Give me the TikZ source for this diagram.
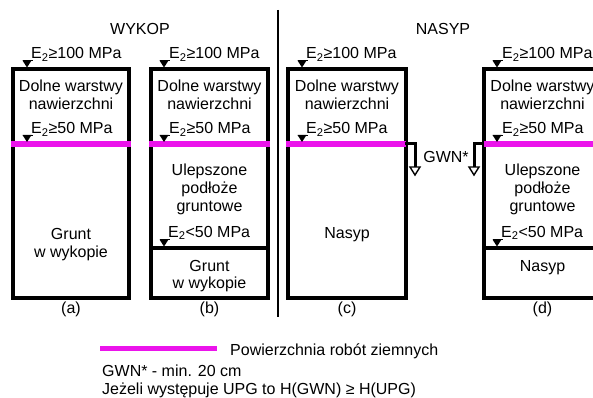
\documentclass[tikz,border=0pt]{standalone}
\usepackage{fontspec}
\setmainfont{Liberation Sans}
\definecolor{mag}{RGB}{235,20,235}
\newcommand\lvlmark[2]{%
  \fill (#1-4.5,#2-7) -- (#1+4.5,#2-7) -- (#1,#2) -- cycle;
  \draw[line width=0.8pt] (#1-4.5,#2-7) -- (#1+6,#2-7);}
\newcommand\gwnarrow[1]{%
  \draw[line width=1.4pt, fill=white] (#1-5,167) -- (#1+5,167) -- (#1,175) -- cycle;}
\begin{document}
\begin{tikzpicture}[x=1pt,y=-1pt,
  box/.style={line width=3.2pt},
  surf/.style={line width=5pt, draw=mag},
  txt/.style={inner sep=0pt, font=\fontsize{16}{19}\selectfont, anchor=base},
  ltxt/.style={txt, anchor=base west},
]
\useasboundingbox (0,0) rectangle (593,398);
\clip (0,0) rectangle (593,398);
\fill[white] (0,0) rectangle (593,398);

% headers and divider
\node[txt] (hw) at (140,35) {WYKOP};
\node[txt] (hn) at (443,35) {NASYP};
\draw[line width=2.5pt] (278,10) -- (278,317);

% box (a)
\draw[box] (13,69) rectangle (129,298);
\draw[surf] (11.4,144) -- (130.6,144);
\node[ltxt] (a1) at (31,59) {E\textsubscript{2}≥100 MPa};
\lvlmark{27}{67.5}
\node[txt] (a2) at (71,92) {Dolne warstwy};
\node[txt] (a3) at (71,110) {nawierzchni};
\node[ltxt] (a4) at (31,134) {E\textsubscript{2}≥50 MPa};
\lvlmark{27}{142}
\node[txt] (a5) at (71,239) {Grunt};
\node[txt] (a6) at (71,257) {w wykopie};
\node[txt] (a7) at (71,313) {(a)};

% box (b)
\draw[box] (151,69) rectangle (268,298);
\draw[box] (151,248) -- (268,248);
\draw[surf] (149.4,144) -- (269.6,144);
\node[ltxt] (b1) at (169,59) {E\textsubscript{2}≥100 MPa};
\lvlmark{164}{67.5}
\node[txt] (b2) at (209.5,92) {Dolne warstwy};
\node[txt] (b3) at (209.5,110) {nawierzchni};
\node[ltxt] (b4) at (169,134) {E\textsubscript{2}≥50 MPa};
\lvlmark{164}{142}
\node[txt] (b5) at (209.5,175) {Ulepszone};
\node[txt] (b6) at (209.5,193) {podłoże};
\node[txt] (b7) at (209.5,211) {gruntowe};
\node[ltxt] (b8) at (168,237) {E\textsubscript{2}<50 MPa};
\lvlmark{164}{246.5}
\node[txt] (b9) at (209.5,271) {Grunt};
\node[txt] (b10) at (209.5,288) {w wykopie};
\node[txt] (b11) at (209.5,313) {(b)};

% box (c)
\draw[box] (288,69) rectangle (406,298);
\draw[surf] (286.4,144) -- (406,144);
\node[ltxt] (c1) at (306,59) {E\textsubscript{2}≥100 MPa};
\lvlmark{302}{67.5}
\node[txt] (c2) at (347,92) {Dolne warstwy};
\node[txt] (c3) at (347,110) {nawierzchni};
\node[ltxt] (c4) at (306,134) {E\textsubscript{2}≥50 MPa};
\lvlmark{302}{142}
\node[txt] (c5) at (347,238) {Nasyp};
\node[txt] (c6) at (347,313) {(c)};

% GWN
\draw[line width=3pt] (404.5,144) -- (415,144) -- (415,167);
\gwnarrow{415}
\draw[line width=3pt] (485.5,144) -- (474,144) -- (474,167);
\gwnarrow{474}
\node[txt] (g) at (446,162) {GWN*};

% box (d)
\draw[box] (484,69) rectangle (601,298);
\draw[box] (484,248) -- (601,248);
\draw[surf] (484,144) -- (603,144);
\node[ltxt] (d1) at (502,59) {E\textsubscript{2}≥100 MPa};
\lvlmark{497}{67.5}
\node[txt] (d2) at (542.5,92) {Dolne warstwy};
\node[txt] (d3) at (542.5,110) {nawierzchni};
\node[ltxt] (d4) at (502,134) {E\textsubscript{2}≥50 MPa};
\lvlmark{497}{142}
\node[txt] (d5) at (542.5,175) {Ulepszone};
\node[txt] (d6) at (542.5,193) {podłoże};
\node[txt] (d7) at (542.5,211) {gruntowe};
\node[ltxt] (d8) at (501,237) {E\textsubscript{2}<50 MPa};
\lvlmark{497}{246.5}
\node[txt] (d9) at (542.5,271) {Nasyp};
\node[txt] (d10) at (542.5,313) {(d)};

% legend
\draw[surf] (100,348) -- (217,348);
\node[ltxt] (l1) at (230,355) {Powierzchnia robót ziemnych};
\node[ltxt] (l2) at (102,376) {GWN* - min. 20 cm};
\node[ltxt] (l3) at (102,394) {Jeżeli występuje UPG to H(GWN) ≥ H(UPG)};
\end{tikzpicture}
\end{document}
